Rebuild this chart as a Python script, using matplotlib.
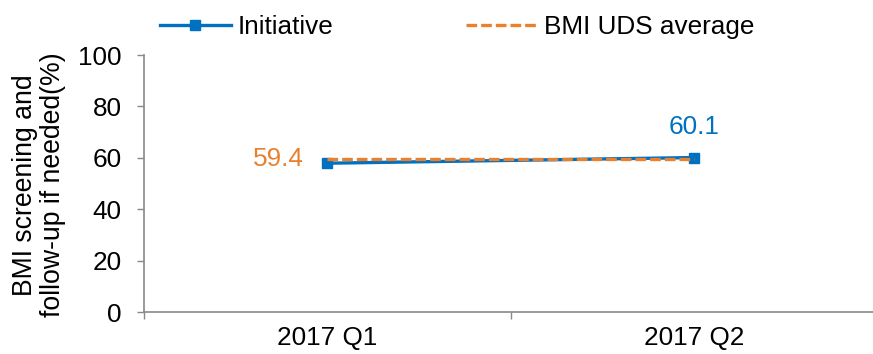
import matplotlib
matplotlib.use("Agg")
import matplotlib.pyplot as plt

plt.rcParams['font.family'] = ['Liberation Sans', 'DejaVu Sans']

categories = ["2017 Q1", "2017 Q2"]
initiative = [57.9, 60.1]
uds_average = [59.4, 59.4]
y_ticks = [0, 20, 40, 60, 80, 100]

blue = "#0070C0"
orange = "#E8802E"
grey = "#898989"
fs = 18.8

fig = plt.figure(figsize=(8.73, 3.54), dpi=100)
ax = fig.add_axes([0.165, 0.1186, 0.84, 0.726])

x = list(range(len(categories)))
ax.plot(x, initiative, color=blue, lw=2.4, marker='s', markersize=7,
        label="Initiative", zorder=3)
ax.plot(x, uds_average, color=orange, lw=2.4, ls=(0, (3.2, 1.2)),
        label="BMI UDS average", zorder=4)

ax.annotate(f"{uds_average[0]:.1f}", (x[0], uds_average[0]), xytext=(-35, 0),
            textcoords='offset points', color=orange, fontsize=fs,
            ha='center', va='center')
ax.annotate(f"{initiative[1]:.1f}", (x[1], initiative[1]), xytext=(0, 22),
            textcoords='offset points', color=blue, fontsize=fs,
            ha='center', va='center')

ax.set_xlim(-0.5, len(categories) - 0.5)
ax.set_ylim(0, 100)
ax.set_yticks(y_ticks)
ax.set_xticks(x)
ax.set_xticklabels(categories)
ax.set_xticks([i - 0.5 for i in range(len(categories) + 1)], minor=True)
ax.tick_params(axis='x', which='major', length=0, labelsize=fs, pad=10)
ax.tick_params(axis='x', which='minor', length=5, color=grey, width=1)
ax.tick_params(axis='y', length=5, color=grey, width=1, labelsize=fs, pad=11)

for s in ['top', 'right']:
    ax.spines[s].set_visible(False)
for s in ['left', 'bottom']:
    ax.spines[s].set_color(grey)
    ax.spines[s].set_linewidth(1.2)

fig.text(39 / 873, 0.477, "BMI screening and\nfollow-up if needed(%)",
         rotation=90, ha='center', va='center', fontsize=19.2, linespacing=1.05)

leg = fig.legend(loc='center left', bbox_to_anchor=(160 / 873, 0.924), ncol=2,
                 frameon=False, fontsize=fs, handlelength=2.7,
                 columnspacing=5.1, handletextpad=0.27, borderpad=0,
                 borderaxespad=0)

fig.savefig("out.png", dpi=100)
